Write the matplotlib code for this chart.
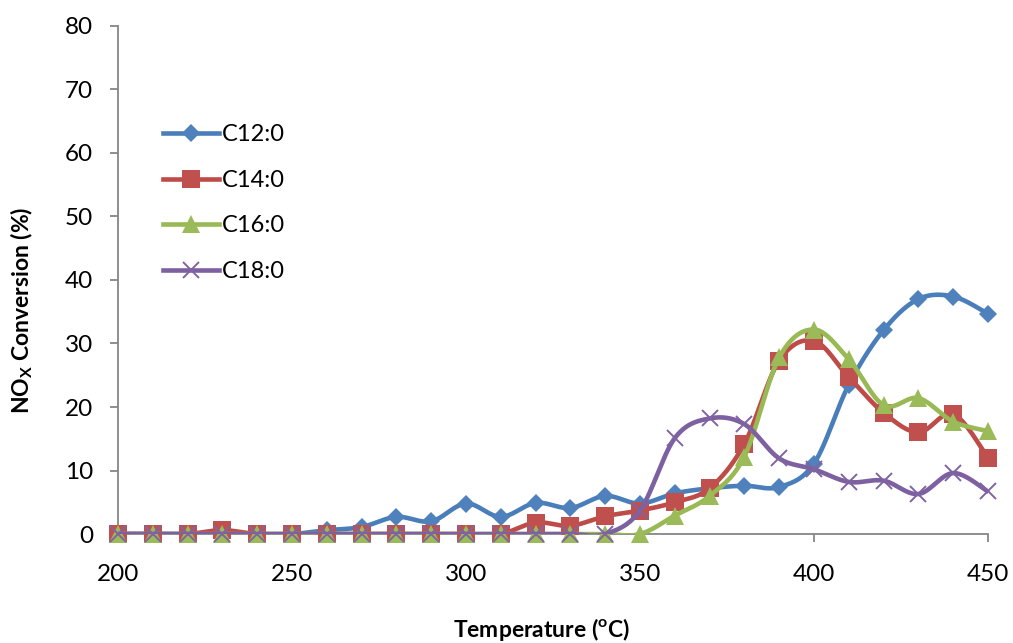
import numpy as np
import matplotlib
matplotlib.use("Agg")
import matplotlib.pyplot as plt
from matplotlib.lines import Line2D

plt.rcParams['font.family'] = ['Lato', 'DejaVu Sans']
plt.rcParams['mathtext.fontset'] = 'custom'
plt.rcParams['mathtext.bf'] = 'Lato:bold'
plt.rcParams['mathtext.rm'] = 'Lato'

# Temperatures (deg C)
temps = list(range(200, 451, 10))

# NOx conversion (%) per fatty acid
c12 = [0, 0, 0, 0, 0, 0, 0.6, 1.1, 2.7, 2.0, 4.8, 2.7, 4.9, 4.1, 6.0, 4.8,
       6.4, 7.2, 7.6, 7.4, 11.1, 23.5, 32.1, 37.0, 37.4, 34.7]
c14 = [0, 0, 0, 0.6, 0, 0, 0, 0, 0, 0, 0, 0, 1.8, 1.3, 2.8, 3.7,
       5.0, 7.2, 14.2, 27.3, 30.4, 24.7, 19.1, 16.0, 18.9, 12.0]
c16 = [0, 0, 0, 0, 0, 0, 0, 0, 0, 0, 0, 0, 0, 0, 0, 0,
       2.9, 6.0, 12.2, 27.8, 32.2, 27.5, 20.3, 21.4, 17.7, 16.2]
c18 = [0, 0, 0, 0, 0, 0, 0, 0, 0, 0, 0, 0, 0, 0, 0, 3.7,
       15.1, 18.2, 17.3, 11.9, 10.2, 8.2, 8.4, 6.3, 9.6, 6.7]

series_names = ['C12:0', 'C14:0', 'C16:0', 'C18:0']
series_vals = [c12, c14, c16, c18]


def excel_smooth(x, y, n=30):
    """Bezier smoothing similar to Excel's 'smoothed line'."""
    x = np.asarray(x, float)
    y = np.asarray(y, float)
    pts = np.column_stack([x, y])
    out = [pts[0]]
    t = np.linspace(0, 1, n)[1:, None]
    for i in range(len(pts) - 1):
        p0 = pts[max(i - 1, 0)]
        p1 = pts[i]
        p2 = pts[i + 1]
        p3 = pts[min(i + 2, len(pts) - 1)]
        c1 = p1 + (p2 - p0) / 6.0
        c2 = p2 - (p3 - p1) / 6.0
        seg = ((1 - t) ** 3) * p1 + 3 * ((1 - t) ** 2) * t * c1 \
            + 3 * (1 - t) * t ** 2 * c2 + t ** 3 * p2
        out.extend(seg)
    out = np.array(out)
    return out[:, 0], out[:, 1]


styles = [
    dict(line='#4A7EBB', mfc='#4F81BD', marker='D', ms=9.5, mew=0),
    dict(line='#BE4B48', mfc='#C0504D', marker='s', ms=12.5, mew=0),
    dict(line='#98B954', mfc='#9BBB59', marker='^', ms=13.5, mew=0),
    dict(line='#7D60A0', mfc='#8064A2', marker='x', ms=12, mew=1.4),
]

fig = plt.figure(figsize=(10.13, 6.43), dpi=100)
ax = fig.add_axes([0.1165, 0.1695, 0.8588, 0.7901])

handles = []
for k, (name, vals, st) in enumerate(zip(series_names, series_vals, styles)):
    sx, sy = excel_smooth(temps, vals)
    ax.plot(sx, sy, color=st['line'], lw=3.3, solid_capstyle='round', zorder=2 + k * 2)
    ax.plot(temps, vals, linestyle='none', marker=st['marker'], ms=st['ms'],
            mfc=st['mfc'], mec=st['mfc'], mew=st['mew'], zorder=3 + k * 2,
            clip_on=False)
    handles.append(Line2D([], [], color=st['line'], lw=3.3, marker=st['marker'],
                          ms=st['ms'], mfc=st['mfc'], mec=st['mfc'], mew=st['mew']))

ax.set_xlim(200, 450)
ax.set_ylim(0, 80)
ax.set_xticks(range(200, 451, 50))
ax.set_yticks(range(0, 81, 10))

for s in ['top', 'right']:
    ax.spines[s].set_visible(False)
for s in ['left', 'bottom']:
    ax.spines[s].set_color('#868686')
    ax.spines[s].set_linewidth(1.3)
ax.tick_params(axis='both', direction='out', length=5.5, width=1.3, color='#868686',
               labelsize=17.5, labelcolor='black')
ax.tick_params(axis='x', pad=16)
ax.tick_params(axis='y', pad=12.5)

ax.set_xlabel(r'Temperature ($^\mathbf{o}$C)', fontsize=16.5, fontweight='bold')
ax.set_ylabel(r'NO$_\mathbf{X}$ Conversion (%)', fontsize=16.5, fontweight='bold')
ax.xaxis.set_label_coords(0.487, -0.161)
ax.yaxis.set_label_coords(-0.0955, 0.441)

leg = ax.legend(handles, series_names, loc='upper left', frameon=False,
                bbox_to_anchor=(0.041, 0.825), borderaxespad=0, fontsize=17,
                handlelength=2.35, handletextpad=0.15, labelspacing=1.04)

fig.savefig('out.png', dpi=100)
